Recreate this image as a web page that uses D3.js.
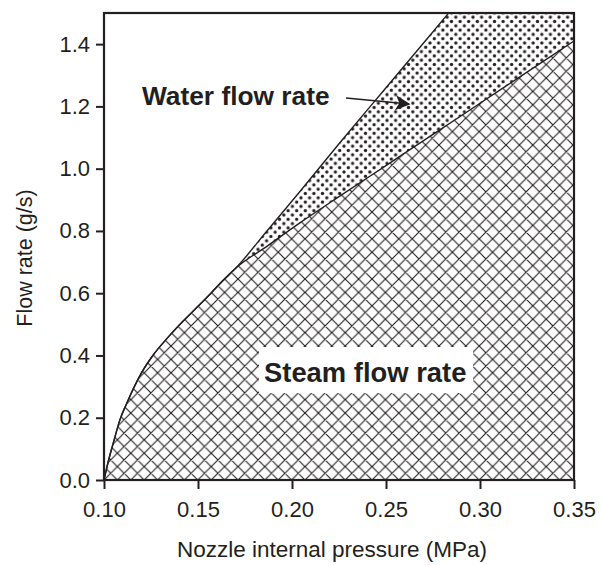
<!DOCTYPE html>
<html>
<head>
<meta charset="utf-8">
<script src="https://cdn.jsdelivr.net/npm/d3@7/dist/d3.min.js"></script>
<style>
  html, body { margin: 0; padding: 0; background: #fff; }
  svg { display: block; }
  text { font-family: "Liberation Sans", Arial, Helvetica, sans-serif; fill: #231f20; }
</style>
</head>
<body>
<svg id="chart" width="602" height="565"></svg>
<script>
// Nozzle internal pressure (MPa)
const pressure  = [0.100, 0.1025, 0.105, 0.1085, 0.112, 0.1155, 0.120, 0.126, 0.134, 0.142, 0.150, 0.157, 0.163, 0.170,
                   0.187, 0.204, 0.225, 0.250, 0.275, 0.300, 0.325, 0.350];
// Steam flow rate (g/s)
const steamFlow = [0.00, 0.065, 0.12, 0.194, 0.245, 0.292, 0.345, 0.400, 0.458, 0.510, 0.558, 0.601, 0.639, 0.680,
                   0.752, 0.825, 0.91, 1.01, 1.11, 1.21, 1.31, 1.41];
// Water flow rate (g/s), stacked on top of steam
const waterFlow = [0, 0, 0, 0, 0, 0, 0, 0, 0, 0, 0, 0, 0, 0,
                   0.05, 0.10, 0.17, 0.25, 0.33, 0.41, 0.50, 0.58];

const xTicks = [0.10, 0.15, 0.20, 0.25, 0.30, 0.35];
const yTicks = [0.0, 0.2, 0.4, 0.6, 0.8, 1.0, 1.2, 1.4];

const rows = pressure.map((p, i) => ({ p, steam: steamFlow[i], water: waterFlow[i] }));

const svg = d3.select("#chart");
const margin = { left: 104, right: 28, top: 13, bottom: 85 };
const W = 602, H = 565;
const ink = "#231f20";

const x = d3.scaleLinear().domain([0.10, 0.35]).range([margin.left, W - margin.right]);
const y = d3.scaleLinear().domain([0, 1.5]).range([H - margin.bottom, margin.top]);

const defs = svg.append("defs");

// crosshatch for steam
const hs = 13.4;
const cross = defs.append("pattern")
  .attr("id", "crosshatch").attr("patternUnits", "userSpaceOnUse")
  .attr("width", hs).attr("height", hs)
  .attr("x", x(0.10)).attr("y", y(0));
cross.append("rect").attr("width", hs).attr("height", hs).attr("fill", "#fff");
cross.append("path")
  .attr("d", `M0,0L${hs},${hs}M0,${hs}L${hs},0M-1,1L1,-1M${hs - 1},${hs + 1}L${hs + 1},${hs - 1}M-1,${hs - 1}L1,${hs + 1}M${hs - 1},-1L${hs + 1},1`)
  .attr("stroke", ink).attr("stroke-width", 1.15).attr("fill", "none");

// dot screen for water
const ds = 8.6;
const dots = defs.append("pattern")
  .attr("id", "dots").attr("patternUnits", "userSpaceOnUse")
  .attr("width", ds).attr("height", ds);
dots.append("rect").attr("width", ds).attr("height", ds).attr("fill", "#fff");
[[0, 0], [ds, 0], [0, ds], [ds, ds], [ds / 2, ds / 2]].forEach(([cx, cy]) =>
  dots.append("circle").attr("cx", cx).attr("cy", cy).attr("r", 1.65).attr("fill", ink));

defs.append("clipPath").attr("id", "plotClip")
  .append("rect")
  .attr("x", x(0.10)).attr("y", y(1.5))
  .attr("width", x(0.35) - x(0.10)).attr("height", y(0) - y(1.5));

const series = d3.stack().keys(["steam", "water"])(rows);
const curve = d3.curveMonotoneX;

const area = d3.area()
  .x((d, i) => x(rows[i].p))
  .y0(d => y(d[0]))
  .y1(d => y(d[1]))
  .curve(curve);

const topLine = d3.line()
  .x((d, i) => x(rows[i].p))
  .y(d => y(d[1]))
  .curve(curve);

const plot = svg.append("g").attr("clip-path", "url(#plotClip)");

plot.append("path").datum(series[1]).attr("d", area).attr("fill", "url(#dots)");
plot.append("path").datum(series[0]).attr("d", area).attr("fill", "url(#crosshatch)");

plot.append("path").datum(series[1]).attr("d", topLine)
  .attr("fill", "none").attr("stroke", ink).attr("stroke-width", 1.4);
plot.append("path").datum(series[0]).attr("d", topLine)
  .attr("fill", "none").attr("stroke", ink).attr("stroke-width", 1.4);

// frame
svg.append("rect")
  .attr("x", x(0.10)).attr("y", y(1.5))
  .attr("width", x(0.35) - x(0.10)).attr("height", y(0) - y(1.5))
  .attr("fill", "none").attr("stroke", ink).attr("stroke-width", 2.2);

// axes
const xAxis = svg.append("g")
  .attr("transform", `translate(0,${y(0)})`)
  .call(d3.axisBottom(x).tickValues(xTicks).tickFormat(d3.format(".2f")).tickSize(9).tickPadding(12));
const yAxis = svg.append("g")
  .attr("transform", `translate(${x(0.10)},0)`)
  .call(d3.axisLeft(y).tickValues(yTicks).tickFormat(d3.format(".1f")).tickSize(8).tickPadding(6));

[xAxis, yAxis].forEach(g => {
  g.select(".domain").remove();
  g.selectAll(".tick line").attr("stroke", ink).attr("stroke-width", 2);
  g.selectAll(".tick text").attr("font-size", 22).attr("fill", ink);
});

// axis titles
svg.append("text")
  .attr("x", (x(0.10) + x(0.35)) / 2 - 7).attr("y", 557)
  .attr("text-anchor", "middle").attr("font-size", 22.5)
  .text("Nozzle internal pressure (MPa)");

svg.append("text")
  .attr("transform", `translate(32,258) rotate(-90)`)
  .attr("text-anchor", "middle").attr("font-size", 21.5)
  .text("Flow rate (g/s)");

// series labels
const steamLabel = svg.append("g");
steamLabel.append("rect")
  .attr("x", 259).attr("y", 347).attr("width", 214).attr("height", 46).attr("fill", "#fff");
steamLabel.append("text")
  .attr("x", 264).attr("y", 382)
  .attr("font-size", 27.4).attr("font-weight", "bold")
  .text("Steam flow rate");

svg.append("text")
  .attr("x", 142).attr("y", 105)
  .attr("font-size", 26.3).attr("font-weight", "bold")
  .text("Water flow rate");

// arrow to water region
defs.append("marker")
  .attr("id", "arrowHead").attr("viewBox", "0 0 10 10")
  .attr("refX", 9).attr("refY", 5)
  .attr("markerWidth", 17).attr("markerHeight", 15)
  .attr("markerUnits", "userSpaceOnUse")
  .attr("orient", "auto")
  .append("path").attr("d", "M0,0L10,5L0,10L2.5,5Z").attr("fill", ink);

svg.append("line")
  .attr("x1", 346).attr("y1", 98).attr("x2", 409).attr("y2", 104)
  .attr("stroke", ink).attr("stroke-width", 1.7)
  .attr("marker-end", "url(#arrowHead)");
</script>
</body>
</html>
